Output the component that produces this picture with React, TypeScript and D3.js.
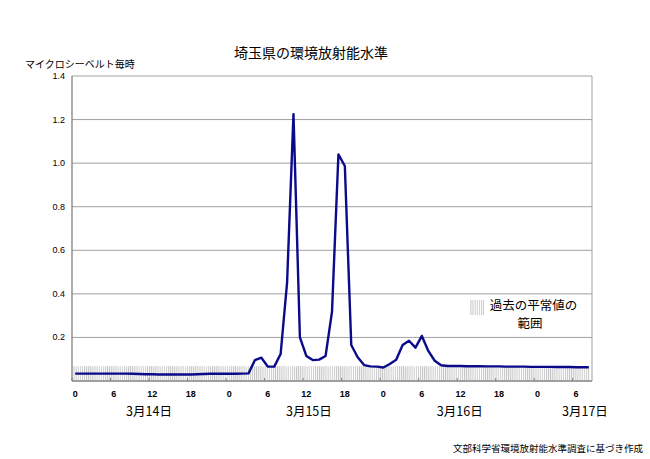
import React from "react";
import * as d3 from "d3";

// ---- data ----
const hourLabels = ["0", "6", "12", "18", "0", "6", "12", "18", "0", "6", "12", "18", "0", "6"];
const hourLabelIndex = [0, 6, 12, 18, 24, 30, 36, 42, 48, 54, 60, 66, 72, 78];
const dateLabels = ["3月14日", "3月15日", "3月16日", "3月17日"];
const dateLabelHour = [11.5, 36.4, 59.9, 79.4];
const yTicks = [0.2, 0.4, 0.6, 0.8, 1.0, 1.2, 1.4];

// hourly dose rate (µSv/h), 3/14 0:00 → 3/17 8:00
const doseValues = [
  0.034, 0.034, 0.034, 0.034, 0.034, 0.034, 0.034, 0.034, 0.034, 0.033,
  0.032, 0.031, 0.031, 0.030, 0.030, 0.030, 0.030, 0.030, 0.030, 0.031,
  0.032, 0.033, 0.034, 0.033, 0.033, 0.033, 0.034, 0.035,
  0.096, 0.107, 0.066, 0.066, 0.124, 0.45, 1.225, 0.2, 0.115, 0.096,
  0.098, 0.115, 0.318, 1.04, 0.987, 0.165, 0.109, 0.073, 0.067, 0.066,
  0.062, 0.078, 0.098, 0.165, 0.185, 0.153, 0.207, 0.138, 0.093, 0.072,
  0.069,
  0.069, 0.069, 0.068, 0.068, 0.068, 0.067, 0.067, 0.067, 0.066, 0.066,
  0.066, 0.066, 0.065, 0.065, 0.065, 0.065, 0.064, 0.064, 0.064, 0.063,
  0.063, 0.063,
];
const normalRange = [0, 0.068];

const title = "埼玉県の環境放射能水準";
const yUnit = "マイクロシーベルト毎時";
const legendLines = ["過去の平常値の", "範囲"];
const sourceNote = "文部科学省環境放射能水準調査に基づき作成";

const W = 650;
const H = 459;
const left = 72;
const right = 592;
const top = 76;
const bottom = 381;
const jp = "'Noto Sans CJK JP', 'Noto Sans', sans-serif";
const latin = "'Liberation Sans', Arial, sans-serif";

export default function App() {
  const idx = doseValues.map((_, i) => i);
  const x = d3.scaleBand<number>().domain(idx).range([left, right]).padding(0);
  const bw = x.bandwidth();
  const cx = (i: number) => (x(i) as number) + bw / 2;
  const hourPx = d3.scaleLinear().domain([0, doseValues.length]).range([left, right]);
  const y = d3.scaleLinear().domain([0, 1.4]).range([bottom, top]);

  const line = d3
    .line<number>()
    .x((_, i) => cx(i))
    .y((d) => y(d));

  return (
    <svg
      width={W}
      height={H}
      style={{ position: "absolute", left: 0, top: 0, background: "#fff" }}
    >
      <defs>
        <pattern id="hatch" width={2.1} height={4} patternUnits="userSpaceOnUse">
          <rect x={0} y={0} width={1} height={4} fill="#c4c4c4" />
        </pattern>
      </defs>
      <rect x={0} y={0} width={W} height={H} fill="#fff" />

      {/* title */}
      <text x={311} y={58} textAnchor="middle" fontFamily={jp} fontSize={14} fill="#000">
        {title}
      </text>
      <text x={25} y={68} fontFamily={jp} fontSize={10} fill="#000">
        {yUnit}
      </text>

      {/* normal range band */}
      <rect
        x={left + 1}
        y={y(normalRange[1])}
        width={right - left - 3}
        height={y(normalRange[0]) - y(normalRange[1]) - 1}
        fill="url(#hatch)"
      />

      {/* gridlines */}
      {yTicks.map((t) => (
        <line key={t} x1={left} x2={right} y1={y(t)} y2={y(t)} stroke="#a0a0a0" strokeWidth={1} />
      ))}
      {yTicks.map((t) => (
        <text
          key={"l" + t}
          x={65}
          y={y(t) + 3}
          textAnchor="end"
          fontFamily={latin}
          fontSize={9}
          fill="#000"
        >
          {t.toFixed(1)}
        </text>
      ))}

      {/* frame */}
      <line x1={right} x2={right} y1={top} y2={bottom} stroke="#a0a0a0" />
      <line x1={left} x2={left} y1={top} y2={bottom} stroke="#808080" strokeWidth={1.3} />
      <line x1={left} x2={right} y1={bottom} y2={bottom} stroke="#808080" strokeWidth={1.3} />

      {/* x ticks */}
      {hourLabelIndex.map((h, k) => (
        <g key={"x" + k}>
          <line
            x1={x(h) as number}
            x2={x(h) as number}
            y1={bottom}
            y2={bottom - 3}
            stroke="#808080"
          />
          <text
            x={cx(h)}
            y={397}
            textAnchor="middle"
            fontFamily={latin}
            fontSize={9}
            fontWeight="bold"
            fill="#000"
          >
            {hourLabels[k]}
          </text>
        </g>
      ))}
      {dateLabels.map((d, k) => (
        <text
          key={d}
          x={hourPx(dateLabelHour[k] + 0.5)}
          y={416}
          textAnchor="middle"
          fontFamily={jp}
          fontSize={12.5}
          fill="#000"
        >
          {d}
        </text>
      ))}

      {/* data line */}
      <path d={line(doseValues) || ""} fill="none" stroke="#0a0a8a" strokeWidth={2.4} strokeLinejoin="round" />

      {/* legend */}
      <rect x={470} y={300} width={14} height={15} fill="url(#hatch)" />
      <text x={533.5} y={309.5} textAnchor="middle" fontFamily={jp} fontSize={12.5} fill="#000">
        {legendLines[0]}
      </text>
      <text x={530} y={328} textAnchor="middle" fontFamily={jp} fontSize={12.5} fill="#000">
        {legendLines[1]}
      </text>

      {/* source */}
      <text x={643} y={452} textAnchor="end" fontFamily={jp} fontSize={9.5} fill="#000">
        {sourceNote}
      </text>
    </svg>
  );
}
